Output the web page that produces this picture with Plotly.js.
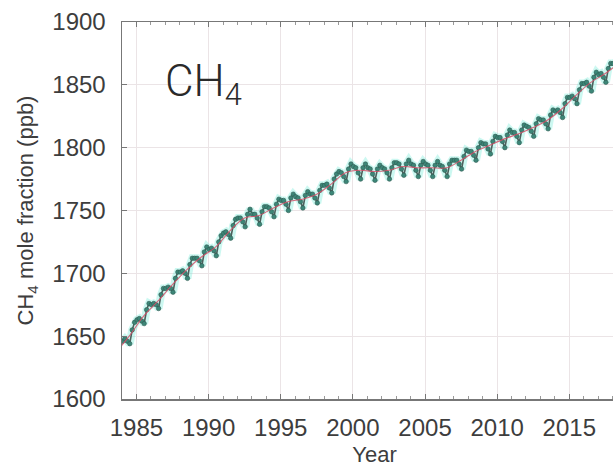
<!DOCTYPE html>
<html>
<head>
<meta charset="utf-8">
<script src="https://cdn.plot.ly/plotly-3.0.1.min.js"></script>
<style>
  html, body { margin: 0; padding: 0; background: #ffffff; overflow: hidden; }
  #chart { width: 640px; height: 472px; }
</style>
</head>
<body>
<div id="chart"></div>
<script>
// Sampling months within each year (Jan, Mar, May, Jul, Sep, Nov)
const sampleMonths = ['01', '03', '05', '07', '09', '11'];
const firstYear = 1984;

// Observed CH4 mole fraction (ppb), six readings per year
const ch4 = [
  1646, 1648, 1646, 1644, 1655, 1661,   // 1984
  1663, 1664, 1662, 1660, 1671, 1676,   // 1985
  1675, 1676, 1675, 1672, 1683, 1688,   // 1986
  1688, 1689, 1688, 1685, 1696, 1701,   // 1987
  1701, 1702, 1700, 1696, 1707, 1712,   // 1988
  1712, 1712, 1710, 1706, 1717, 1721,   // 1989
  1719, 1720, 1718, 1714, 1725, 1730,   // 1990
  1732, 1733, 1731, 1728, 1738, 1743,   // 1991
  1744, 1744, 1741, 1737, 1747, 1751,   // 1992
  1747, 1747, 1744, 1739, 1749, 1753,   // 1993
  1753, 1752, 1749, 1745, 1755, 1759,   // 1994
  1758, 1758, 1755, 1750, 1760, 1763,   // 1995
  1761, 1760, 1757, 1752, 1762, 1765,   // 1996
  1763, 1763, 1760, 1756, 1766, 1770,   // 1997
  1770, 1771, 1768, 1764, 1775, 1779,   // 1998
  1781, 1780, 1777, 1773, 1783, 1787,   // 1999
  1785, 1784, 1780, 1775, 1784, 1787,   // 2000
  1784, 1783, 1779, 1774, 1783, 1786,   // 2001
  1784, 1783, 1780, 1775, 1784, 1788,   // 2002
  1788, 1787, 1783, 1778, 1787, 1790,   // 2003
  1787, 1786, 1782, 1777, 1786, 1789,   // 2004
  1787, 1786, 1782, 1777, 1786, 1789,   // 2005
  1786, 1785, 1782, 1777, 1787, 1790,   // 2006
  1790, 1790, 1787, 1783, 1793, 1798,   // 2007
  1797, 1797, 1794, 1790, 1800, 1804,   // 2008
  1803, 1803, 1799, 1795, 1805, 1809,   // 2009
  1808, 1808, 1805, 1800, 1810, 1814,   // 2010
  1812, 1812, 1809, 1804, 1814, 1818,   // 2011
  1817, 1816, 1813, 1809, 1819, 1823,   // 2012
  1822, 1822, 1819, 1815, 1826, 1830,   // 2013
  1829, 1830, 1828, 1824, 1835, 1840,   // 2014
  1840, 1841, 1839, 1835, 1846, 1851,   // 2015
  1851, 1852, 1849, 1845, 1856, 1860,   // 2016
  1858, 1859, 1856, 1852, 1863, 1867,   // 2017
  1867, 1868, 1865                      // 2018
];

// Deseasonalised trend (ppb), mid-year values
const trendYears = [1983, 1984, 1985, 1986, 1987, 1988, 1989, 1990, 1991, 1992, 1993, 1994,
  1995, 1996, 1997, 1998, 1999, 2000, 2001, 2002, 2003, 2004, 2005, 2006, 2007, 2008,
  2009, 2010, 2011, 2012, 2013, 2014, 2015, 2016, 2017, 2018];
const trendValues = [1636, 1650, 1666, 1678, 1691, 1703, 1713, 1721, 1734, 1744, 1746, 1752,
  1757, 1759, 1763, 1771, 1780, 1782, 1781, 1782, 1785, 1784, 1784, 1784, 1790, 1797,
  1802, 1807, 1811, 1816, 1822, 1831, 1842, 1852, 1859, 1868];

// Axis tick labels
const xTickYears = ['1985', '1990', '1995', '2000', '2005', '2010', '2015'];
const yTicks = [1600, 1650, 1700, 1750, 1800, 1850, 1900];

const obsX = ch4.map((v, i) => {
  const y = firstYear + Math.floor(i / sampleMonths.length);
  return y + '-' + sampleMonths[i % sampleMonths.length] + '-15';
});
const trendX = trendYears.map(y => y + '-07-01');

const halo = {
  x: obsX, y: ch4, type: 'scatter', mode: 'lines',
  line: { color: 'rgba(110,235,215,0.35)', width: 8 },
  hoverinfo: 'skip', showlegend: false
};
const obs = {
  x: obsX, y: ch4, type: 'scatter', mode: 'lines+markers',
  line: { color: '#4d5f5b', width: 1.6 },
  marker: { symbol: 'circle', size: 4.5, color: '#3c8677', line: { color: '#2f5a52', width: 0.6 } },
  showlegend: false
};
const trend = {
  x: trendX, y: trendValues, type: 'scatter', mode: 'lines',
  line: { color: 'rgba(215,80,105,0.85)', width: 1.1, shape: 'spline' },
  showlegend: false
};

const tickFont = { family: 'Liberation Sans, Arial, sans-serif', size: 24, color: '#3d3d3d' };
const titleFont = { family: 'Liberation Sans, Arial, sans-serif', size: 22, color: '#3d3d3d' };

const layout = {
  width: 640, height: 472,
  margin: { l: 122, r: 13, t: 22, b: 73 },
  paper_bgcolor: '#ffffff', plot_bgcolor: '#ffffff',
  xaxis: {
    type: 'date',
    range: ['1984-01-01', '2019-01-01'],
    tickvals: xTickYears.map(y => y + '-01-01'),
    ticktext: xTickYears,
    ticks: 'inside', ticklen: 5, tickcolor: '#777',
    showline: true, linecolor: '#777', linewidth: 1.5, mirror: 'ticks',
    showgrid: true, gridcolor: '#ebe4e6', gridwidth: 1,
    zeroline: false,
    minor: { dtick: 'M12', tick0: '1984-01-01', ticks: 'inside', ticklen: 3, tickcolor: '#999', showgrid: false },
    tickfont: tickFont,
    ticklabelstandoff: 7,
    title: { text: 'Year', font: titleFont, standoff: 6 }
  },
  yaxis: {
    range: [1600, 1900],
    tickvals: yTicks,
    ticks: 'inside', ticklen: 5, tickcolor: '#777',
    showline: true, linecolor: '#777', linewidth: 1.5, mirror: 'ticks',
    showgrid: true, gridcolor: '#ebe4e6', gridwidth: 1,
    zeroline: false,
    tickfont: tickFont,
    ticklabelstandoff: 10,
    title: { text: 'CH<sub>4</sub> mole fraction (ppb)', font: titleFont, standoff: 12 }
  },
  annotations: [{
    xref: 'paper', yref: 'paper', x: 0.082, y: 0.835, xanchor: 'left', yanchor: 'middle',
    text: 'CH<sub>4</sub>', showarrow: false,
    font: { family: 'Roboto, Liberation Sans, sans-serif', size: 44, color: '#2a2a2a', weight: 300 }
  }]
};

Plotly.newPlot('chart', [halo, obs, trend], layout, { displayModeBar: false, staticPlot: true });
</script>
</body>
</html>
